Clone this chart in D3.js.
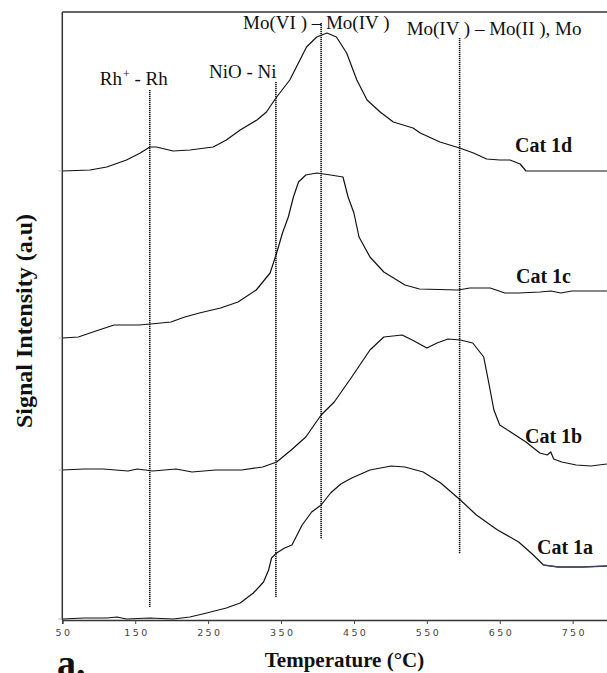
<!DOCTYPE html>
<html><head><meta charset="utf-8">
<script src="https://cdn.jsdelivr.net/npm/d3@7"></script>
<style>body{margin:0;background:#fff} svg{display:block}</style>
</head><body><svg id="c" width="607" height="673"></svg>
<script>
// ---------- data ----------
const tempTicks = [50, 150, 250, 350, 450, 550, 650, 750];
const seriesNames = ["Cat 1a", "Cat 1b", "Cat 1c", "Cat 1d"];
// [temperature °C, signal a.u.]
const cat1a = [[50,0.1],[80,0.2],[111,0.2],[125,0.3],[138,0.1],[170,0.2],[202,0.1],[225,0.3],[248,0.7],[275,1.2],[294,1.7],[312,2.7],[326,3.8],[333,5.0],[337,6.2],[344,6.7],[355,7.2],[365,7.5],[379,9.5],[392,10.8],[405,11.5],[418,12.7],[432,13.6],[447,14.2],[472,15.0],[501,15.4],[520,15.3],[545,14.8],[569,13.7],[596,12.0],[618,10.5],[647,9.0],[676,7.8],[696,6.5],[710,5.5],[730,5.3],[764,5.3],[797,5.4]];
const cat1b = [[50,15.0],[80,15.1],[106,15.1],[140,14.9],[153,15.1],[174,14.9],[206,15.1],[228,14.8],[260,15.0],[296,15.0],[325,15.3],[344,15.8],[364,17.0],[384,18.3],[405,20.5],[423,21.8],[447,24.3],[472,27.0],[491,28.3],[516,28.5],[530,28.0],[550,27.2],[564,27.7],[579,28.1],[596,28.0],[613,27.7],[628,26.3],[635,23.7],[642,21.0],[650,19.5],[667,18.7],[686,17.8],[705,16.7],[715,16.5],[720,16.8],[724,16.1],[735,15.8],[755,15.5],[775,15.4],[797,15.6]];
const cat1c = [[50,28.2],[72,28.3],[96,28.9],[121,29.5],[155,29.5],[171,29.6],[199,29.8],[218,30.3],[238,30.7],[267,31.2],[291,31.8],[316,33.0],[335,34.7],[344,36.7],[352,38.7],[360,40.3],[367,42.3],[374,43.8],[384,44.5],[399,44.7],[418,44.5],[435,44.3],[442,42.3],[450,40.7],[457,38.3],[472,36.3],[491,34.8],[520,33.5],[540,33.1],[593,33.0],[609,33.2],[637,33.2],[657,32.7],[676,32.7],[705,32.8],[720,32.9],[734,32.7],[749,32.9],[797,32.9]];
const cat1d = [[50,44.9],[88,45.0],[111,45.3],[138,46.0],[157,46.7],[170,47.3],[179,47.3],[202,46.9],[225,47.0],[257,47.3],[275,48.0],[294,49.0],[317,50.0],[330,50.8],[343,52.2],[362,54.0],[385,57.3],[399,58.3],[413,58.7],[426,58.3],[440,56.7],[454,54.0],[468,52.0],[486,50.8],[504,49.8],[531,49.2],[541,48.7],[568,47.8],[595,47.2],[614,46.7],[632,46.1],[650,46.0],[664,46.0],[678,45.6],[686,44.9],[797,44.9]];
const seriesData = [cat1a, cat1b, cat1c, cat1d];

const markerTemps = [170, 343, 405, 595];
const markerTop = [53.0, 53.8, 59.7, 58.2];
const markerBottom = [1.3, 2.3, 8.1, 6.6];
const markerLabels = ["Rh⁺ - Rh", "NiO - Ni", "Mo(VI ) – Mo(IV )", "Mo(IV ) – Mo(II ), Mo"];

// ---------- drawing ----------
(function () {
const svg = d3.select("#c");
const pL = 62.3, pR = 609.1, pT = 12, pB = 620;
const x = d3.scaleLinear().domain([50, 800]).range([pL, pR]);
const y = d3.scaleLinear().domain([0, 60.8]).range([pB, pT]);
const serif = "'Liberation Serif','Times New Roman',serif";

// frame
svg.append("line").attr("x1", pL).attr("x2", 607).attr("y1", pT).attr("y2", pT)
  .attr("stroke", "#333").attr("stroke-width", 1.3);
svg.append("line").attr("x1", pL).attr("x2", pL).attr("y1", pT).attr("y2", pB)
  .attr("stroke", "#333").attr("stroke-width", 1.5);

// x axis
const gx = svg.append("g").attr("transform", `translate(0,${pB})`)
  .call(d3.axisBottom(x).tickValues(tempTicks).tickSize(4).tickFormat(d3.format("d")));
gx.select(".domain").attr("stroke", "#333").attr("stroke-width", 1.5);
gx.selectAll(".tick line").attr("stroke", "#444");
gx.selectAll(".tick text").attr("y", 9.5).attr("dx", 1.2)
  .attr("font-family", "'DejaVu Sans',Verdana,sans-serif").attr("font-size", 9.5)
  .attr("letter-spacing", 2.4).attr("fill", "#444");

// faint y marks at series start levels
svg.selectAll(".ymark").data(seriesData).enter().append("line")
  .attr("x1", pL - 4).attr("x2", pL).attr("y1", d => y(d[0][1])).attr("y2", d => y(d[0][1]))
  .attr("stroke", "#bbb").attr("stroke-width", 1);

// marker lines
svg.selectAll(".marker").data(markerTemps).enter().append("line")
  .attr("x1", d => x(d)).attr("x2", d => x(d))
  .attr("y1", (d, i) => y(markerTop[i])).attr("y2", (d, i) => y(markerBottom[i]))
  .attr("stroke", "#111").attr("stroke-width", 1.6).attr("stroke-dasharray", "1.2,0.8");

// marker labels
const labelDx = [-50, -67, -78, -53];
const labelY = [85, 78, 29, 35];
markerLabels.forEach((lab, i) => {
  const t = svg.append("text").attr("x", x(markerTemps[i]) + labelDx[i]).attr("y", labelY[i])
    .attr("font-family", serif).attr("font-size", 19).attr("fill", "#111");
  const parts = lab.split("⁺");
  t.append("tspan").text(parts[0]);
  if (parts.length > 1) {
    t.append("tspan").text("+").attr("font-size", 12).attr("dy", -7).attr("dx", 1);
    t.append("tspan").text(parts[1]).attr("dy", 7);
  }
});

// series
const line = d3.line().x(d => x(d[0])).y(d => y(d[1]));
svg.selectAll(".series").data(seriesData).enter().append("path")
  .attr("d", line).attr("fill", "none").attr("stroke", "#111").attr("stroke-width", 1.2)
  .attr("stroke-linejoin", "round");
// lighter instrument tails
svg.append("path").attr("d", line(cat1d.filter(d => d[0] >= 686)))
  .attr("fill", "none").attr("stroke", "#888").attr("stroke-width", 1.4);
svg.append("path").attr("d", line(cat1a.filter(d => d[0] >= 710)))
  .attr("fill", "none").attr("stroke", "#3c4466").attr("stroke-width", 1.3);

// series labels
const catPos = [[537, 554], [525, 443], [516, 283], [515, 152]];
seriesNames.forEach((n, i) => {
  svg.append("text").attr("x", catPos[i][0]).attr("y", catPos[i][1])
    .attr("font-family", serif).attr("font-weight", "bold").attr("font-size", 20)
    .attr("fill", "#111").text(n);
});

// axis titles
svg.append("text").attr("x", 344.5).attr("y", 667).attr("text-anchor", "middle")
  .attr("font-family", serif).attr("font-weight", "bold").attr("font-size", 21)
  .attr("fill", "#111").text("Temperature (°C)");
svg.append("text").attr("transform", "translate(32,321) rotate(-90)").attr("text-anchor", "middle")
  .attr("font-family", serif).attr("font-weight", "bold").attr("font-size", 24)
  .attr("fill", "#111").text("Signal Intensity (a.u)");
svg.append("text").attr("x", 57).attr("y", 676)
  .attr("font-family", serif).attr("font-weight", "bold").attr("font-size", 38)
  .attr("fill", "#111").text("a.");
})();
</script></body></html>
